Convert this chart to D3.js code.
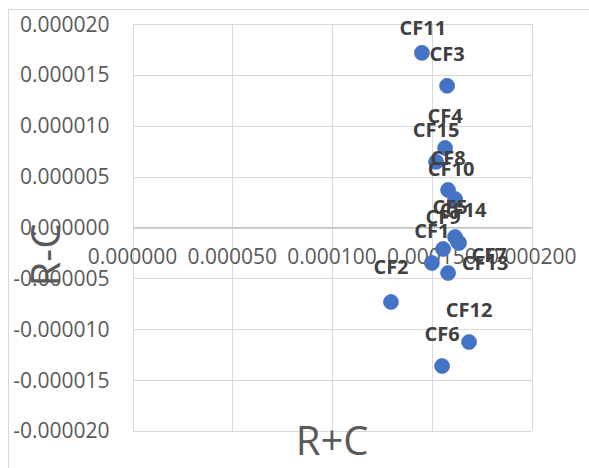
<!DOCTYPE html>
<html><head><meta charset="utf-8">
<script src="https://cdn.jsdelivr.net/npm/d3@7"></script>
<style>body{margin:0;background:#fff}</style>
</head><body>
<svg id="c" width="589" height="468"></svg>
<script>
// ---- data ----
const labels  = ["CF1","CF2","CF3","CF4","CF5","CF6","CF7","CF8","CF9","CF10","CF11","CF12","CF13","CF14","CF15"];
const rPlusC  = [0.0001500,0.0001295,0.0001576,0.0001566,0.0001616,0.0001551,0.0001636,0.0001581,0.0001556,0.0001616,0.0001450,0.0001686,0.0001581,0.0001631,0.0001521];
const rMinusC = [-0.00000347,-0.00000731,0.00001395,0.00000784,-0.00000092,-0.00001361,-0.0000015,0.00000371,-0.0000021,0.00000282,0.00001719,-0.00001125,-0.00000446,-0.00000141,0.00000647];
const xTicks  = [0,0.00005,0.0001,0.00015,0.0002];
const yTicks  = [-0.00002,-0.000015,-0.00001,-0.000005,0,0.000005,0.00001,0.000015,0.00002];
const xTitle = "R+C", yTitle = "R-C";

// label nudges (px, relative to the default "above" placement)
const labelNudge = {CF11:[1,7], CF2:[0,-3], CF7:[30,44], CF13:[37,22.5], CF10:[-4,2], CF5:[-5,2], CF14:[5,0]};

const svg = d3.select("#c");
const L = 132.5, R = 531.7, T = 24.3, B = 431;
const x = d3.scaleLinear().domain([0,0.0002]).range([L,R]);
const y = d3.scaleLinear().domain([-0.00002,0.00002]).range([B,T]);
const fmt = v => d3.format(".6f")(v).replace("\u2212","-");
const font = "'Open Sans', 'Noto Sans', sans-serif";

// chart border
svg.append("rect").attr("x",8.5).attr("y",9.5).attr("width",620).attr("height",500)
  .attr("fill","#fff").attr("stroke","#d9d9d9");

// gridlines
const gy = svg.append("g").attr("transform",`translate(${L},0)`)
  .call(d3.axisLeft(y).tickValues(yTicks).tickSize(-(R-L)).tickFormat(""));
gy.select(".domain").remove();
gy.selectAll(".tick line").attr("stroke","#d9d9d9").attr("shape-rendering","crispEdges");

const gx = svg.append("g").attr("transform",`translate(0,${B})`)
  .call(d3.axisBottom(x).tickValues(xTicks).tickSize(-(B-T)).tickFormat(""));
gx.select(".domain").remove();
gx.selectAll(".tick line").attr("stroke","#d9d9d9").attr("shape-rendering","crispEdges");

// zero axis line
svg.append("line").attr("x1",L).attr("x2",R).attr("y1",y(0)).attr("y2",y(0))
  .attr("stroke","#bfbfbf").attr("shape-rendering","crispEdges");

// y tick labels
svg.append("g").selectAll("text").data(yTicks).join("text")
  .attr("x",L-23).attr("y",d=>y(d)).attr("dy","0.35em")
  .attr("text-anchor","end").attr("font-family",font).attr("font-size",21)
  .attr("fill","#595959").text(fmt);

// x tick labels (axis crosses at 0)
svg.append("g").selectAll("text").data(xTicks).join("text")
  .attr("x",d=>x(d)).attr("y",y(0)+29).attr("dy","0.35em")
  .attr("text-anchor","middle").attr("font-family",font).attr("font-size",21)
  .attr("fill","#595959").text(fmt);

// axis titles
svg.append("text").attr("x",(L+R)/2).attr("y",455).attr("text-anchor","middle")
  .attr("font-family",font).attr("font-size",40).attr("fill","#595959").text(xTitle);
svg.append("text").attr("transform",`translate(46,255) rotate(-90)`).attr("dy","0.35em")
  .attr("text-anchor","middle").attr("font-family",font).attr("font-size",40)
  .attr("fill","#595959").text(yTitle);

const pts = labels.map((l,i)=>({l, xv:rPlusC[i], yv:rMinusC[i]}));

// points
svg.append("g").selectAll("circle").data(pts).join("circle")
  .attr("cx",d=>x(d.xv)).attr("cy",d=>y(d.yv)).attr("r",7.5)
  .attr("fill","#4472c4").attr("stroke","#4472c4").attr("stroke-width",0.75);

// data labels
svg.append("g").selectAll("text").data(pts).join("text")
  .attr("x",d=>x(d.xv)+(labelNudge[d.l]?labelNudge[d.l][0]:0))
  .attr("y",d=>y(d.yv)-32+(labelNudge[d.l]?labelNudge[d.l][1]:0))
  .attr("dy","0.35em").attr("text-anchor","middle")
  .attr("font-family",font).attr("font-weight","bold").attr("font-size",20)
  .attr("fill","#404040").text(d=>d.l);
</script>
</body></html>
